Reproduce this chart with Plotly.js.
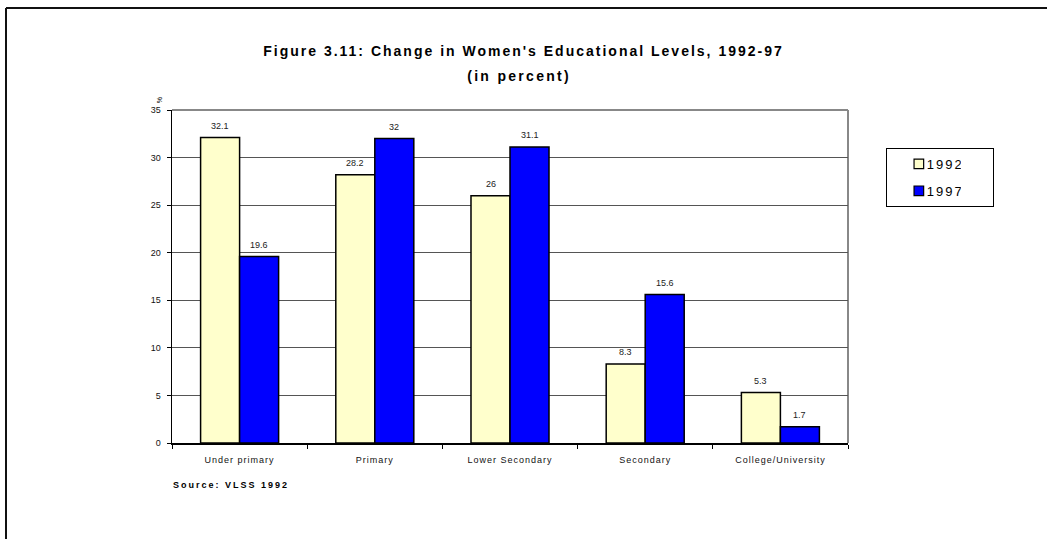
<!DOCTYPE html>
<html>
<head>
<meta charset="utf-8">
<script src="https://cdn.plot.ly/plotly-3.0.1.min.js"></script>
<style>
  html, body { margin: 0; padding: 0; background: #fff; }
  #chart { width: 1047px; height: 539px; }
</style>
</head>
<body>
<div id="chart"></div>
<script>
const categories = ["Under primary", "Primary", "Lower Secondary", "Secondary", "College/University"];
const values1992 = [32.1, 28.2, 26, 8.3, 5.3];
const values1997 = [19.6, 32, 31.1, 15.6, 1.7];
const seriesNames = ["1992", "1997"];
const titleLine1 = "Figure 3.11: Change in Women's Educational Levels, 1992-97";
const titleLine2 = "(in percent)";
const sourceText = "Source: VLSS 1992";
const yUnit = "%";

const FONT = "Arial, 'Liberation Sans', sans-serif";

const traces = [
  {
    type: "bar", name: seriesNames[0], x: categories, y: values1992,
    legendgroup: "a",
    marker: { color: "#FFFFCC", line: { color: "#000", width: 1.5 } },
    hoverinfo: "skip"
  },
  {
    type: "bar", name: seriesNames[1], x: categories, y: values1997,
    legendgroup: "b",
    marker: { color: "#0000FF", line: { color: "#000", width: 1.5 } },
    hoverinfo: "skip"
  }
];

const annotations = [];
const BAR_HALF = 19.5;
[values1992, values1997].forEach((vals, si) => {
  vals.forEach((v, i) => {
    annotations.push({
      x: categories[i], y: v, xref: "x", yref: "y",
      text: String(v), showarrow: false,
      xshift: si === 0 ? -BAR_HALF : BAR_HALF, yshift: 12,
      font: { family: FONT, size: 9, color: "#222" },
      xanchor: "center", yanchor: "middle"
    });
  });
});
annotations.push({
  text: "<b>" + titleLine2 + "</b>", showarrow: false,
  xref: "paper", yref: "paper", x: 0.513, y: 1.102,
  xanchor: "center", yanchor: "middle",
  font: { family: FONT, size: 14, color: "#000" }
});
annotations.push({
  text: "<b>" + sourceText + "</b>", showarrow: false,
  xref: "paper", yref: "paper", x: 0, y: -0.126, xshift: 16,
  xanchor: "left", yanchor: "middle",
  font: { family: FONT, size: 9, color: "#000" }
});
annotations.push({
  text: yUnit, showarrow: false, textangle: -90,
  xref: "paper", yref: "paper", x: -0.019, y: 1.03,
  xanchor: "center", yanchor: "middle",
  font: { family: FONT, size: 7, color: "#000" }
});

const layout = {
  width: 1047, height: 539,
  margin: { l: 172, r: 199, t: 110, b: 96, pad: 0 },
  paper_bgcolor: "#fff", plot_bgcolor: "#fff",
  font: { family: FONT, color: "#000" },
  title: {
    text: "<b>" + titleLine1 + "</b>",
    x: 0.5, xanchor: "center", xref: "container",
    y: 1 - 51 / 539, yanchor: "middle", yref: "container",
    font: { family: FONT, size: 14, color: "#000" }
  },
  barmode: "group", bargap: 0.423, bargroupgap: 0,
  showlegend: true,
  legend: {
    x: 1.056, y: 0.886, xanchor: "left", yanchor: "top",
    bgcolor: "#fff", bordercolor: "#000", borderwidth: 1,
    font: { family: FONT, size: 13, color: "#000" },
    traceorder: "grouped", tracegroupgap: 7, itemwidth: 30
  },
  xaxis: {
    type: "category", showgrid: false, zeroline: false,
    showline: true, linecolor: "#000", linewidth: 1.5,
    ticks: "outside", tickson: "boundaries", ticklen: 4, tickcolor: "#000",
    ticklabelstandoff: 8,
    tickfont: { family: FONT, size: 9, color: "#111" },
    fixedrange: true
  },
  yaxis: {
    range: [0, 35], dtick: 5, tick0: 0,
    showgrid: true, gridcolor: "#555", gridwidth: 1,
    zeroline: false, showline: true, linecolor: "#000", linewidth: 1.5,
    ticks: "outside", ticklen: 4, tickcolor: "#000",
    ticklabelstandoff: 4,
    tickfont: { family: FONT, size: 9, color: "#111" },
    fixedrange: true
  },
  shapes: [
    { type: "line", xref: "paper", yref: "paper", x0: 0, x1: 1, y0: 1, y1: 1,
      line: { color: "#888", width: 2 }, layer: "below" },
    { type: "line", xref: "paper", yref: "paper", x0: 1, x1: 1, y0: 0, y1: 1,
      line: { color: "#888", width: 2 }, layer: "below" },
    { type: "line", xref: "paper", yref: "paper",
      x0: (6 - 172) / 676, x1: (6 - 172) / 676, y0: (443 - 8) / 333, y1: (443 - 560) / 333,
      line: { color: "#111", width: 2 } },
    { type: "line", xref: "paper", yref: "paper",
      x0: (6 - 172) / 676, x1: (1060 - 172) / 676, y0: (443 - 8) / 333, y1: (443 - 8) / 333,
      line: { color: "#111", width: 2 } }
  ],
  annotations: annotations
};

Plotly.newPlot("chart", traces, layout, { staticPlot: true, displayModeBar: false }).then(() => {
  const root = document.getElementById("chart");
  root.querySelectorAll(".gtitle").forEach(e => e.style.letterSpacing = "2px");
  root.querySelectorAll(".xtick text").forEach(e => e.style.letterSpacing = "1px");
  root.querySelectorAll(".legendtext").forEach(e => e.style.letterSpacing = "2px");
  root.querySelectorAll(".legend .legendpoints path").forEach(p => {
    p.setAttribute("transform", "translate(32,0) scale(0.8)");
  });
  const bg = root.querySelector(".legend rect.bg");
  if (bg) bg.setAttribute("width", 107);
  const anns = root.querySelectorAll(".annotation-text");
  const n = anns.length;
  if (n >= 3) {
    anns[n - 3].style.letterSpacing = "2.3px";
    anns[n - 2].style.letterSpacing = "2px";
  }
});
</script>
</body>
</html>
